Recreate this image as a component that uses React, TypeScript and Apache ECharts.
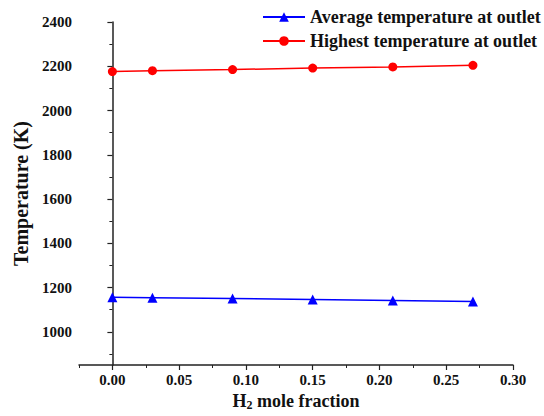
import React, { useEffect, useRef } from "react";
import * as echarts from "echarts";

const h2Fraction = [0, 0.03, 0.09, 0.15, 0.21, 0.27];
const avgTemp = [1156, 1154, 1150, 1146, 1142, 1137];
const maxTemp = [2176, 2180, 2185, 2192, 2197, 2204];

const xMajorTicks = [0, 0.05, 0.1, 0.15, 0.2, 0.25, 0.3];
const xMinorTicks = [-0.025, 0.025, 0.075, 0.125, 0.175, 0.225, 0.275];
const yMajorTicks = [1000, 1200, 1400, 1600, 1800, 2000, 2200, 2400];
const yMinorTicks = [900, 1100, 1300, 1500, 1700, 1900, 2100, 2300];

const FONT = '"Liberation Serif", "Times New Roman", serif';
const INK = "#111";

export default function App() {
  const ref = useRef<HTMLDivElement>(null);

  useEffect(() => {
    if (!ref.current) return;
    const chart = echarts.init(ref.current, undefined, { renderer: "svg" });
    const axisLineStyle = { color: "#222", width: 1.5 };
    const labelStyle = { fontFamily: FONT, fontWeight: "bold", fontSize: 15, color: INK };
    const xRange = { min: -0.025, max: 0.3 };
    const yRange = { min: 850, max: 2400 };

    chart.setOption({
      animation: false,
      backgroundColor: "#fff",
      textStyle: { fontFamily: FONT },
      grid: { left: 79, right: 31, top: 22, bottom: 44 },
      legend: {
        orient: "vertical",
        left: 257,
        top: 3,
        itemWidth: 42,
        itemHeight: 12,
        itemGap: 6,
        textStyle: { fontFamily: FONT, fontWeight: "bold", fontSize: 18, color: INK },
        data: ["Average temperature at outlet", "Highest temperature at outlet"],
      },
      xAxis: [
        {
          type: "value",
          ...xRange,
          name: "{a|H}{s|2}{a| mole fraction}",
          nameLocation: "middle",
          nameGap: 26,
          nameTextStyle: {
            rich: {
              a: { fontFamily: FONT, fontWeight: "bold", fontSize: 18, color: INK },
              s: { fontFamily: FONT, fontWeight: "bold", fontSize: 12, color: INK, verticalAlign: "bottom", padding: [8, 0, 0, 0] },
            },
          },
          axisLine: { show: true, lineStyle: axisLineStyle },
          axisTick: { show: true, inside: false, length: 5, customValues: xMajorTicks, lineStyle: { color: "#222", width: 1.2 } },
          splitLine: { show: false },
          axisLabel: { ...labelStyle, margin: 7, customValues: xMajorTicks, formatter: (v: number) => v.toFixed(2) },
        },
        {
          type: "value",
          ...xRange,
          position: "bottom",
          axisLine: { show: false },
          axisTick: { show: true, inside: false, length: 3, customValues: xMinorTicks, lineStyle: { color: "#222", width: 1 } },
          axisLabel: { show: false },
          splitLine: { show: false },
        },
      ],
      yAxis: [
        {
          type: "value",
          ...yRange,
          name: "Temperature (K)",
          nameLocation: "middle",
          nameGap: 47,
          nameTextStyle: { fontFamily: FONT, fontWeight: "bold", fontSize: 20, color: INK },
          axisLine: { show: true, lineStyle: axisLineStyle },
          axisTick: { show: true, inside: false, length: 5, customValues: yMajorTicks, lineStyle: { color: "#222", width: 1.2 } },
          splitLine: { show: false },
          axisLabel: { ...labelStyle, margin: 7, customValues: yMajorTicks, formatter: (v: number) => String(v) },
        },
        {
          type: "value",
          ...yRange,
          position: "left",
          axisLine: { show: false },
          axisTick: { show: true, inside: false, length: 3, customValues: yMinorTicks, lineStyle: { color: "#222", width: 1 } },
          axisLabel: { show: false },
          splitLine: { show: false },
        },
      ],
      series: [
        {
          name: "Average temperature at outlet",
          type: "line",
          data: h2Fraction.map((x, i) => [x, avgTemp[i]]),
          symbol: "triangle",
          symbolSize: 10,
          lineStyle: { color: "#0000ff", width: 1.5 },
          itemStyle: { color: "#0000ff" },
        },
        {
          name: "Highest temperature at outlet",
          type: "line",
          data: h2Fraction.map((x, i) => [x, maxTemp[i]]),
          symbol: "circle",
          symbolSize: 9,
          lineStyle: { color: "#ff0000", width: 1.5 },
          itemStyle: { color: "#ff0000" },
        },
      ],
    });
    return () => chart.dispose();
  }, []);

  return <div ref={ref} style={{ width: 544, height: 416, position: "fixed", left: 0, top: 0 }} />;
}
